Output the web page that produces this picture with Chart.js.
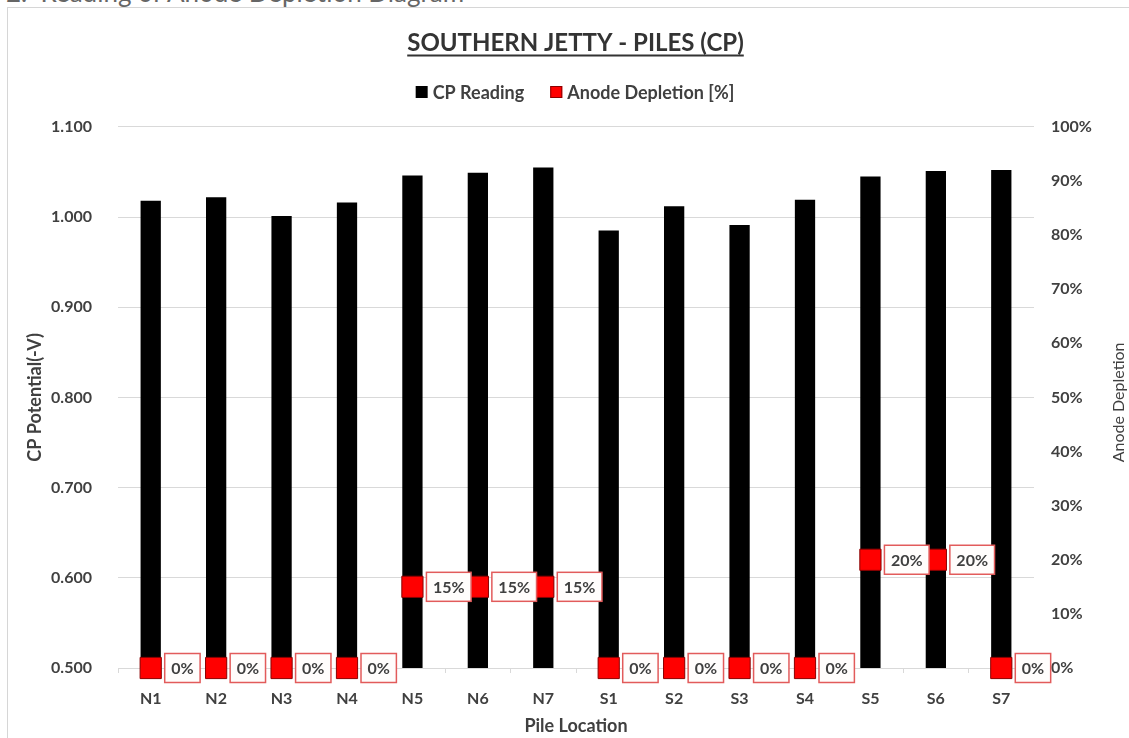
<!DOCTYPE html>
<html>
<head>
<meta charset="utf-8">
<script src="https://cdn.jsdelivr.net/npm/chart.js@4.4.1/dist/chart.umd.min.js"></script>
<style>
  html, body { margin: 0; padding: 0; background: #fff; overflow: hidden; }
  body { width: 1129px; height: 738px; position: relative; font-family: Lato, "Open Sans", sans-serif; }
  #heading { position: absolute; left: 6px; top: -21px; font-size: 26px; line-height: 26px; color: #666; white-space: nowrap; }
  #frame { position: absolute; left: 7px; top: 7px; width: 1130px; height: 740px; border-left: 1px solid #d6d6d6; border-top: 1px solid #d6d6d6; }
  #chart { position: absolute; left: 0; top: 0; }
</style>
</head>
<body>
<div id="heading">2.&nbsp;&nbsp;Reading of Anode Depletion Diagram</div>
<div id="frame"></div>
<canvas id="chart" width="1129" height="738"></canvas>
<script>
// pile locations along the jetty
const piles = ['N1', 'N2', 'N3', 'N4', 'N5', 'N6', 'N7', 'S1', 'S2', 'S3', 'S4', 'S5', 'S6', 'S7'];
// CP potential, -V
const cpReading = [1.018, 1.022, 1.001, 1.016, 1.046, 1.049, 1.055, 0.985, 1.012, 0.991, 1.019, 1.045, 1.051, 1.052];
// anode depletion, fraction (0.15 = 15%)
const anodeDepletion = [0, 0, 0, 0, 0.15, 0.15, 0.15, 0, 0, 0, 0, 0.20, 0.20, 0];

const cpMin = 0.5, cpMax = 1.1, cpStep = 0.1;
const depMin = 0, depMax = 1, depStep = 0.1;

const TEXT = '#404040';
const FAMILY = 'Lato, "Open Sans", sans-serif';
const GRID = '#d9d9d9';

// title underline (Excel style)
const underlineTitle = {
  id: 'underlineTitle',
  afterDraw(chart) {
    const tb = chart.titleBlock;
    if (!tb) return;
    const o = chart.options.plugins.title;
    const ctx = chart.ctx;
    ctx.save();
    ctx.font = `bold ${o.font.size}px ${FAMILY}`;
    const w = ctx.measureText(o.text).width;
    const cx = (tb.left + tb.right) / 2;
    const cy = tb.top + o.padding.top + o.font.size * 1.2 / 2;
    ctx.strokeStyle = o.color;
    ctx.lineWidth = 2;
    ctx.beginPath();
    ctx.moveTo(cx - w / 2, cy + 12);
    ctx.lineTo(cx + w / 2, cy + 12);
    ctx.stroke();
    ctx.restore();
  }
};

// legend drawn under the title
const sideLegend = {
  id: 'sideLegend',
  afterDraw(chart) {
    const ctx = chart.ctx;
    const ds = chart.data.datasets;
    ctx.save();
    ctx.font = `bold 18px ${FAMILY}`;
    ctx.textBaseline = 'middle';
    const box = 12, gap = 5, between = 26;
    const widths = ds.map(d => box + gap + ctx.measureText(d.label).width);
    const total = widths.reduce((a, b) => a + b, 0) + between * (ds.length - 1);
    let x = 575 - total / 2;
    const y = 92;
    ds.forEach((d, i) => {
      ctx.fillStyle = d.backgroundColor;
      ctx.fillRect(x, y - box / 2, box, box);
      if (d.type === 'line') {
        ctx.strokeStyle = d.borderColor;
        ctx.lineWidth = 1;
        ctx.strokeRect(x + 0.5, y - box / 2 + 0.5, box - 1, box - 1);
      }
      ctx.fillStyle = TEXT;
      ctx.textAlign = 'left';
      ctx.fillText(d.label, x + box + gap, y + 1);
      x += widths[i] + between;
    });
    ctx.restore();
  }
};

// boxed value labels to the right of each depletion marker
const valueLabels = {
  id: 'valueLabels',
  afterDatasetsDraw(chart) {
    const ctx = chart.ctx;
    const meta = chart.getDatasetMeta(1);
    ctx.save();
    ctx.font = `bold 16px ${FAMILY}`;
    ctx.textBaseline = 'middle';
    ctx.textAlign = 'center';
    meta.data.forEach((pt, i) => {
      const txt = Math.round(anodeDepletion[i] * 100) + '%';
      const w = ctx.measureText(txt).width + 13;
      const h = 29;
      const left = pt.x + 14;
      const top = pt.y - h / 2;
      ctx.fillStyle = '#fffdfc';
      ctx.fillRect(left, top, w, h);
      ctx.strokeStyle = '#e25b5b';
      ctx.lineWidth = 1.5;
      ctx.strokeRect(left, top, w, h);
      ctx.fillStyle = TEXT;
      ctx.fillText(txt, left + w / 2, pt.y + 1);
    });
    ctx.restore();
  }
};

// right axis title reads bottom-to-top like the left one
const rightTitle = {
  id: 'rightTitle',
  afterDraw(chart) {
    const ctx = chart.ctx;
    const a = chart.chartArea;
    ctx.save();
    ctx.translate(1119, (a.top + a.bottom) / 2 + 5);
    ctx.rotate(-Math.PI / 2);
    ctx.font = `16px ${FAMILY}`;
    ctx.fillStyle = TEXT;
    ctx.textAlign = 'center';
    ctx.textBaseline = 'middle';
    ctx.fillText('Anode Depletion', 0, 0);
    ctx.restore();
  }
};

const tickFont = { family: FAMILY, size: 16, weight: 'bold' };
const axisTitleFont = { family: FAMILY, size: 18, weight: 'bold', lineHeight: 1.2 };

new Chart(document.getElementById('chart'), {
  data: {
    labels: piles,
    datasets: [
      {
        type: 'bar',
        label: 'CP Reading',
        data: cpReading,
        yAxisID: 'y',
        backgroundColor: '#000000',
        borderWidth: 0,
        barPercentage: 0.31,
        categoryPercentage: 1,
        order: 2
      },
      {
        type: 'line',
        label: 'Anode Depletion [%]',
        data: anodeDepletion,
        yAxisID: 'y1',
        showLine: false,
        clip: false,
        pointStyle: 'rect',
        pointRadius: 15,
        pointHoverRadius: 15,
        backgroundColor: '#ff0000',
        borderColor: '#8a0000',
        borderWidth: 1,
        order: 1
      }
    ]
  },
  options: {
    responsive: false,
    animation: false,
    layout: { padding: { left: 22, top: 29, right: 0, bottom: 0 } },
    plugins: {
      legend: { display: false },
      tooltip: { enabled: false },
      title: {
        display: true,
        text: 'SOUTHERN JETTY - PILES (CP)',
        color: '#333333',
        font: { family: FAMILY, size: 24, weight: 'bold', lineHeight: 1.2 },
        padding: { top: 0, bottom: 69 }
      }
    },
    scales: {
      x: {
        grid: { display: true, drawOnChartArea: false, drawTicks: true, tickLength: 5, color: GRID, offset: true },
        border: { color: GRID },
        ticks: { color: TEXT, font: tickFont, padding: 16, maxRotation: 0, autoSkip: false },
        title: {
          display: true,
          text: 'Pile Location',
          color: TEXT,
          font: axisTitleFont,
          padding: { top: 0, bottom: 1 }
        },
        afterFit(s) { s.height = 70; }
      },
      y: {
        position: 'left',
        min: cpMin,
        max: cpMax,
        grid: { color: GRID, drawTicks: false },
        border: { display: false },
        ticks: { stepSize: cpStep, color: TEXT, font: tickFont, padding: 26, callback: v => v.toFixed(3) },
        title: {
          display: true,
          text: 'CP Potential(-V)',
          color: TEXT,
          font: axisTitleFont,
          padding: { top: 2, bottom: 0 }
        },
        afterFit(s) { s.width = 96; }
      },
      y1: {
        position: 'right',
        min: depMin,
        max: depMax,
        grid: { display: false, drawTicks: false },
        border: { display: false },
        ticks: { stepSize: depStep, color: TEXT, font: tickFont, padding: 17, callback: v => Math.round(v * 100) + '%' },
        afterFit(s) { s.width = 95; }
      }
    }
  },
  plugins: [valueLabels, underlineTitle, sideLegend, rightTitle]
});
</script>
</body>
</html>
